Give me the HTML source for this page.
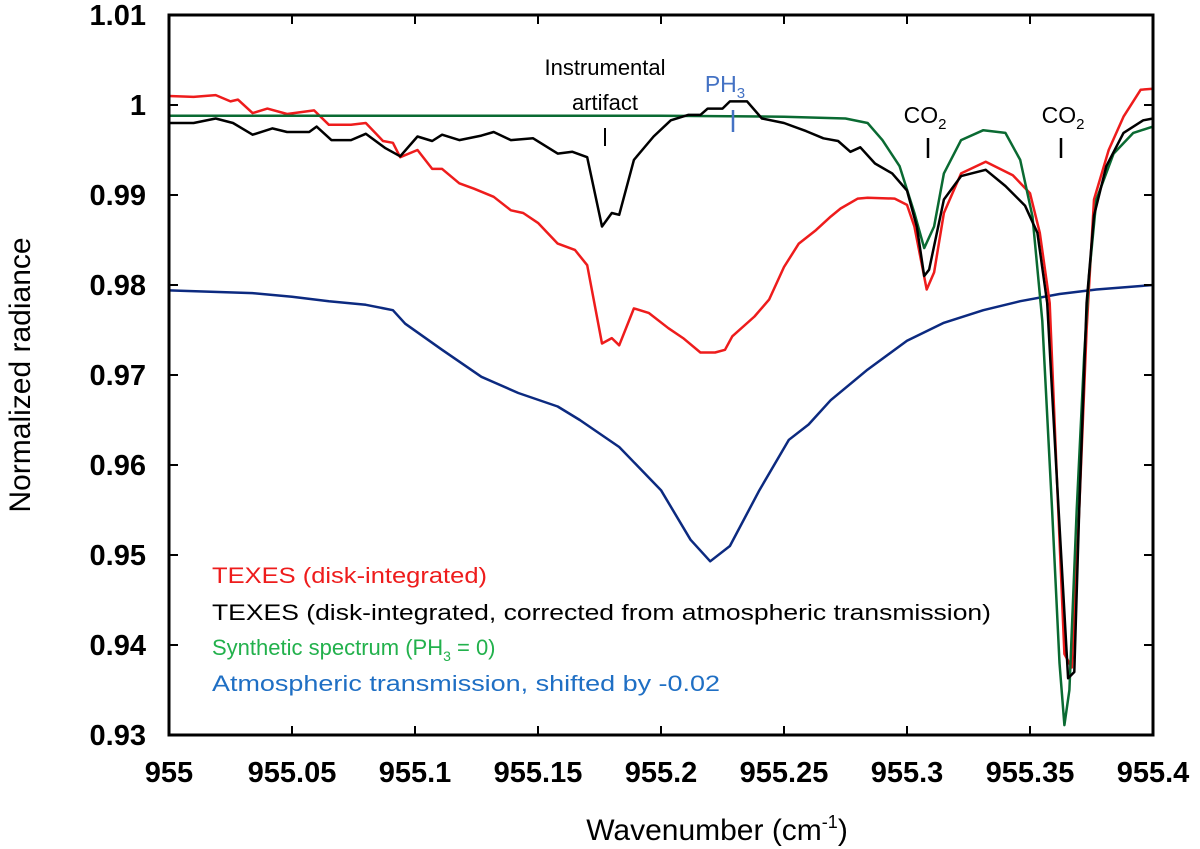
<!DOCTYPE html>
<html><head><meta charset="utf-8">
<style>
html,body{margin:0;padding:0;background:#fff;}
svg{display:block;}
text{font-family:"Liberation Sans",sans-serif;}
</style></head>
<body>
<svg id="chart" width="1200" height="849" viewBox="0 0 1200 849" xmlns="http://www.w3.org/2000/svg">
<g id="plot"></g>
</svg>
<script>
const xTicks = [955, 955.05, 955.1, 955.15, 955.2, 955.25, 955.3, 955.35, 955.4];
const xTickLabels = ["955","955.05","955.1","955.15","955.2","955.25","955.3","955.35","955.4"];
const yTicks = [0.93, 0.94, 0.95, 0.96, 0.97, 0.98, 0.99, 1.0, 1.01];
const yTickLabels = ["0.93","0.94","0.95","0.96","0.97","0.98","0.99","1","1.01"];

const redW = [955,955.01,955.019,955.025,955.028,955.034,955.040,955.048,955.059,955.065,955.074,955.080,955.087,955.091,955.094,955.101,955.107,955.111,955.118,955.124,955.132,955.139,955.144,955.150,955.158,955.165,955.170,955.176,955.180,955.183,955.189,955.195,955.203,955.209,955.216,955.222,955.226,955.229,955.238,955.244,955.250,955.256,955.263,955.269,955.273,955.280,955.284,955.295,955.300,955.303,955.308,955.311,955.315,955.322,955.332,955.343,955.350,955.354,955.358,955.361,955.364,955.367,955.370,955.373,955.376,955.382,955.388,955.395,955.4];
const redV = [1.001,1.0009,1.0011,1.0004,1.0006,0.9991,0.9996,0.999,0.9994,0.9978,0.9978,0.998,0.996,0.9958,0.9942,0.995,0.9929,0.9929,0.9913,0.9907,0.9898,0.9883,0.988,0.9869,0.9846,0.9839,0.9822,0.9735,0.9741,0.9733,0.9774,0.9769,0.9752,0.9741,0.9725,0.9725,0.9728,0.9743,0.9765,0.9784,0.982,0.9846,0.9861,0.9876,0.9885,0.9896,0.9897,0.9896,0.9889,0.9865,0.9795,0.9814,0.988,0.9924,0.9937,0.9922,0.9902,0.9858,0.978,0.958,0.939,0.9375,0.955,0.975,0.9895,0.995,0.9987,1.0017,1.0018];

const blackW = [955,955.01,955.019,955.026,955.034,955.042,955.048,955.057,955.060,955.066,955.074,955.080,955.088,955.094,955.101,955.107,955.111,955.118,955.127,955.132,955.139,955.148,955.158,955.164,955.170,955.176,955.180,955.183,955.189,955.197,955.204,955.211,955.216,955.219,955.225,955.228,955.235,955.241,955.250,955.259,955.266,955.272,955.277,955.281,955.287,955.294,955.300,955.304,955.307,955.309,955.315,955.322,955.332,955.340,955.348,955.353,955.357,955.361,955.3655,955.368,955.370,955.373,955.376,955.381,955.388,955.396,955.4];
const blackV = [0.998,0.998,0.9985,0.998,0.9967,0.9974,0.997,0.997,0.9976,0.9961,0.9961,0.9968,0.9952,0.9943,0.9965,0.996,0.9967,0.9961,0.9966,0.997,0.9961,0.9963,0.9946,0.9948,0.9942,0.9865,0.988,0.9878,0.9939,0.9965,0.9983,0.9989,0.9989,0.9996,0.9996,1.0004,1.0004,0.9985,0.998,0.9971,0.9963,0.996,0.9948,0.9953,0.9935,0.9924,0.9905,0.9865,0.981,0.9817,0.9895,0.9921,0.9928,0.991,0.9888,0.9858,0.978,0.958,0.9363,0.937,0.955,0.978,0.9877,0.9932,0.9969,0.9983,0.9985];

const greenW = [955,955.1,955.2,955.25,955.275,955.284,955.290,955.297,955.303,955.307,955.311,955.315,955.322,955.331,955.340,955.346,955.351,955.355,955.359,955.362,955.364,955.366,955.369,955.372,955.374,955.377,955.384,955.392,955.4];
const greenV = [0.9988,0.9988,0.9988,0.9987,0.9985,0.998,0.9961,0.9932,0.988,0.9841,0.9865,0.9924,0.9961,0.9972,0.9969,0.9939,0.9876,0.976,0.955,0.938,0.9311,0.935,0.955,0.972,0.981,0.9895,0.9946,0.9969,0.9976];

const blueW = [955,955.034,955.050,955.065,955.080,955.091,955.096,955.111,955.127,955.142,955.158,955.167,955.183,955.2,955.212,955.22,955.228,955.240,955.252,955.260,955.269,955.284,955.3,955.315,955.331,955.346,955.362,955.377,955.4];
const blueV = [0.9794,0.9791,0.9787,0.9782,0.9778,0.9772,0.9757,0.9728,0.9698,0.968,0.9665,0.965,0.962,0.9572,0.9517,0.9493,0.951,0.9572,0.9628,0.9645,0.9672,0.9706,0.9738,0.9758,0.9772,0.9782,0.979,0.9795,0.980];

const L=169,R=1153,T=15,B=735;
const X = w => L + (w-955)/0.4*(R-L);
const Y = v => T + (1.01-v)/0.08*(B-T);
const NS="http://www.w3.org/2000/svg";
const g=document.getElementById('plot');
function mk(tag,attrs,parent){const e=document.createElementNS(NS,tag);for(const k in attrs)e.setAttribute(k,attrs[k]);(parent||g).appendChild(e);return e;}

function series(W,V,color,name,sw){
  const d=W.map((w,i)=>(i?'L':'M')+X(w).toFixed(1)+' '+Y(V[i]).toFixed(1)).join(' ');
  const p=mk('path',{d:d,fill:'none',stroke:color,'stroke-width':sw,'stroke-linejoin':'round'});
  
  
}
series(blueW,blueV,'#0c2a80','atmospheric-transmission-line',2.5);
series(redW,redV,'#ee1c1c','texes-disk-integrated-line',2.5);
series(greenW,greenV,'#0a6a32','synthetic-spectrum-line',2.5);
series(blackW,blackV,'#000','texes-corrected-line',2.5);

const fr=mk('rect',{x:L,y:T,width:R-L,height:B-T,fill:'none',stroke:'#000','stroke-width':3});



xTicks.forEach((t,i)=>{
  const x=X(t);
  if(i>0&&i<xTicks.length-1){
    const a=mk('line',{x1:x,x2:x,y1:B,y2:B-9,stroke:'#000','stroke-width':2});
    
    
    const b=mk('line',{x1:x,x2:x,y1:T,y2:T+9,stroke:'#000','stroke-width':2});
    
    
  }
  const tx=mk('text',{x:x,y:782,'text-anchor':'middle','font-size':29,'font-weight':'bold'});
  tx.textContent=xTickLabels[i];
  
  
});
yTicks.forEach((t,i)=>{
  const y=Y(t);
  if(i>0&&i<yTicks.length-1){
    const a=mk('line',{x1:L,x2:L+9,y1:y,y2:y,stroke:'#000','stroke-width':2});
    
    
    const b=mk('line',{x1:R,x2:R-9,y1:y,y2:y,stroke:'#000','stroke-width':2});
    
    
  }
  const tx=mk('text',{x:146,y:y+10,'text-anchor':'end','font-size':29,'font-weight':'bold'});
  tx.textContent=yTickLabels[i];
  
  
});
</script>
<svg style="position:absolute;left:0;top:0" width="1200" height="849">
<text x="0" y="0" transform="translate(30,375) rotate(-90)" text-anchor="middle" font-size="30">Normalized radiance</text>
<text x="717" y="840" text-anchor="middle" font-size="30">Wavenumber (cm<tspan font-size="18" dy="-12">-1</tspan><tspan dy="12">)</tspan></text>
<text x="605" y="75" text-anchor="middle" font-size="22">Instrumental</text>
<text x="605" y="110" text-anchor="middle" font-size="22">artifact</text>
<line x1="605" x2="605" y1="128" y2="146" stroke="#000" stroke-width="2"/>
<text x="725" y="92" text-anchor="middle" font-size="23" fill="#4472c4">PH<tspan font-size="15" dy="6">3</tspan></text>
<line x1="733" x2="733" y1="110" y2="132" stroke="#4472c4" stroke-width="2.5"/>
<text x="925" y="123" text-anchor="middle" font-size="23">CO<tspan font-size="15" dy="6">2</tspan></text>
<line x1="928" x2="928" y1="138" y2="158" stroke="#000" stroke-width="2.5"/>
<text x="1063" y="123" text-anchor="middle" font-size="23">CO<tspan font-size="15" dy="6">2</tspan></text>
<line x1="1061" x2="1061" y1="138" y2="158" stroke="#000" stroke-width="2.5"/>
<g font-size="22">
<text x="212" y="583" fill="#ee1c1c" textLength="275" lengthAdjust="spacingAndGlyphs">TEXES (disk-integrated)</text>
<text x="212" y="620" fill="#000" textLength="779" lengthAdjust="spacingAndGlyphs">TEXES (disk-integrated, corrected from atmospheric transmission)</text>
<text x="212" y="655" fill="#22b14c" font-size="22">Synthetic spectrum (PH<tspan font-size="14" dy="6">3</tspan><tspan dy="-6"> = 0)</tspan></text>
<text x="212" y="691" fill="#1f6fc4" textLength="508" lengthAdjust="spacingAndGlyphs">Atmospheric transmission, shifted by -0.02</text>
</g>
</svg>
</body></html>
